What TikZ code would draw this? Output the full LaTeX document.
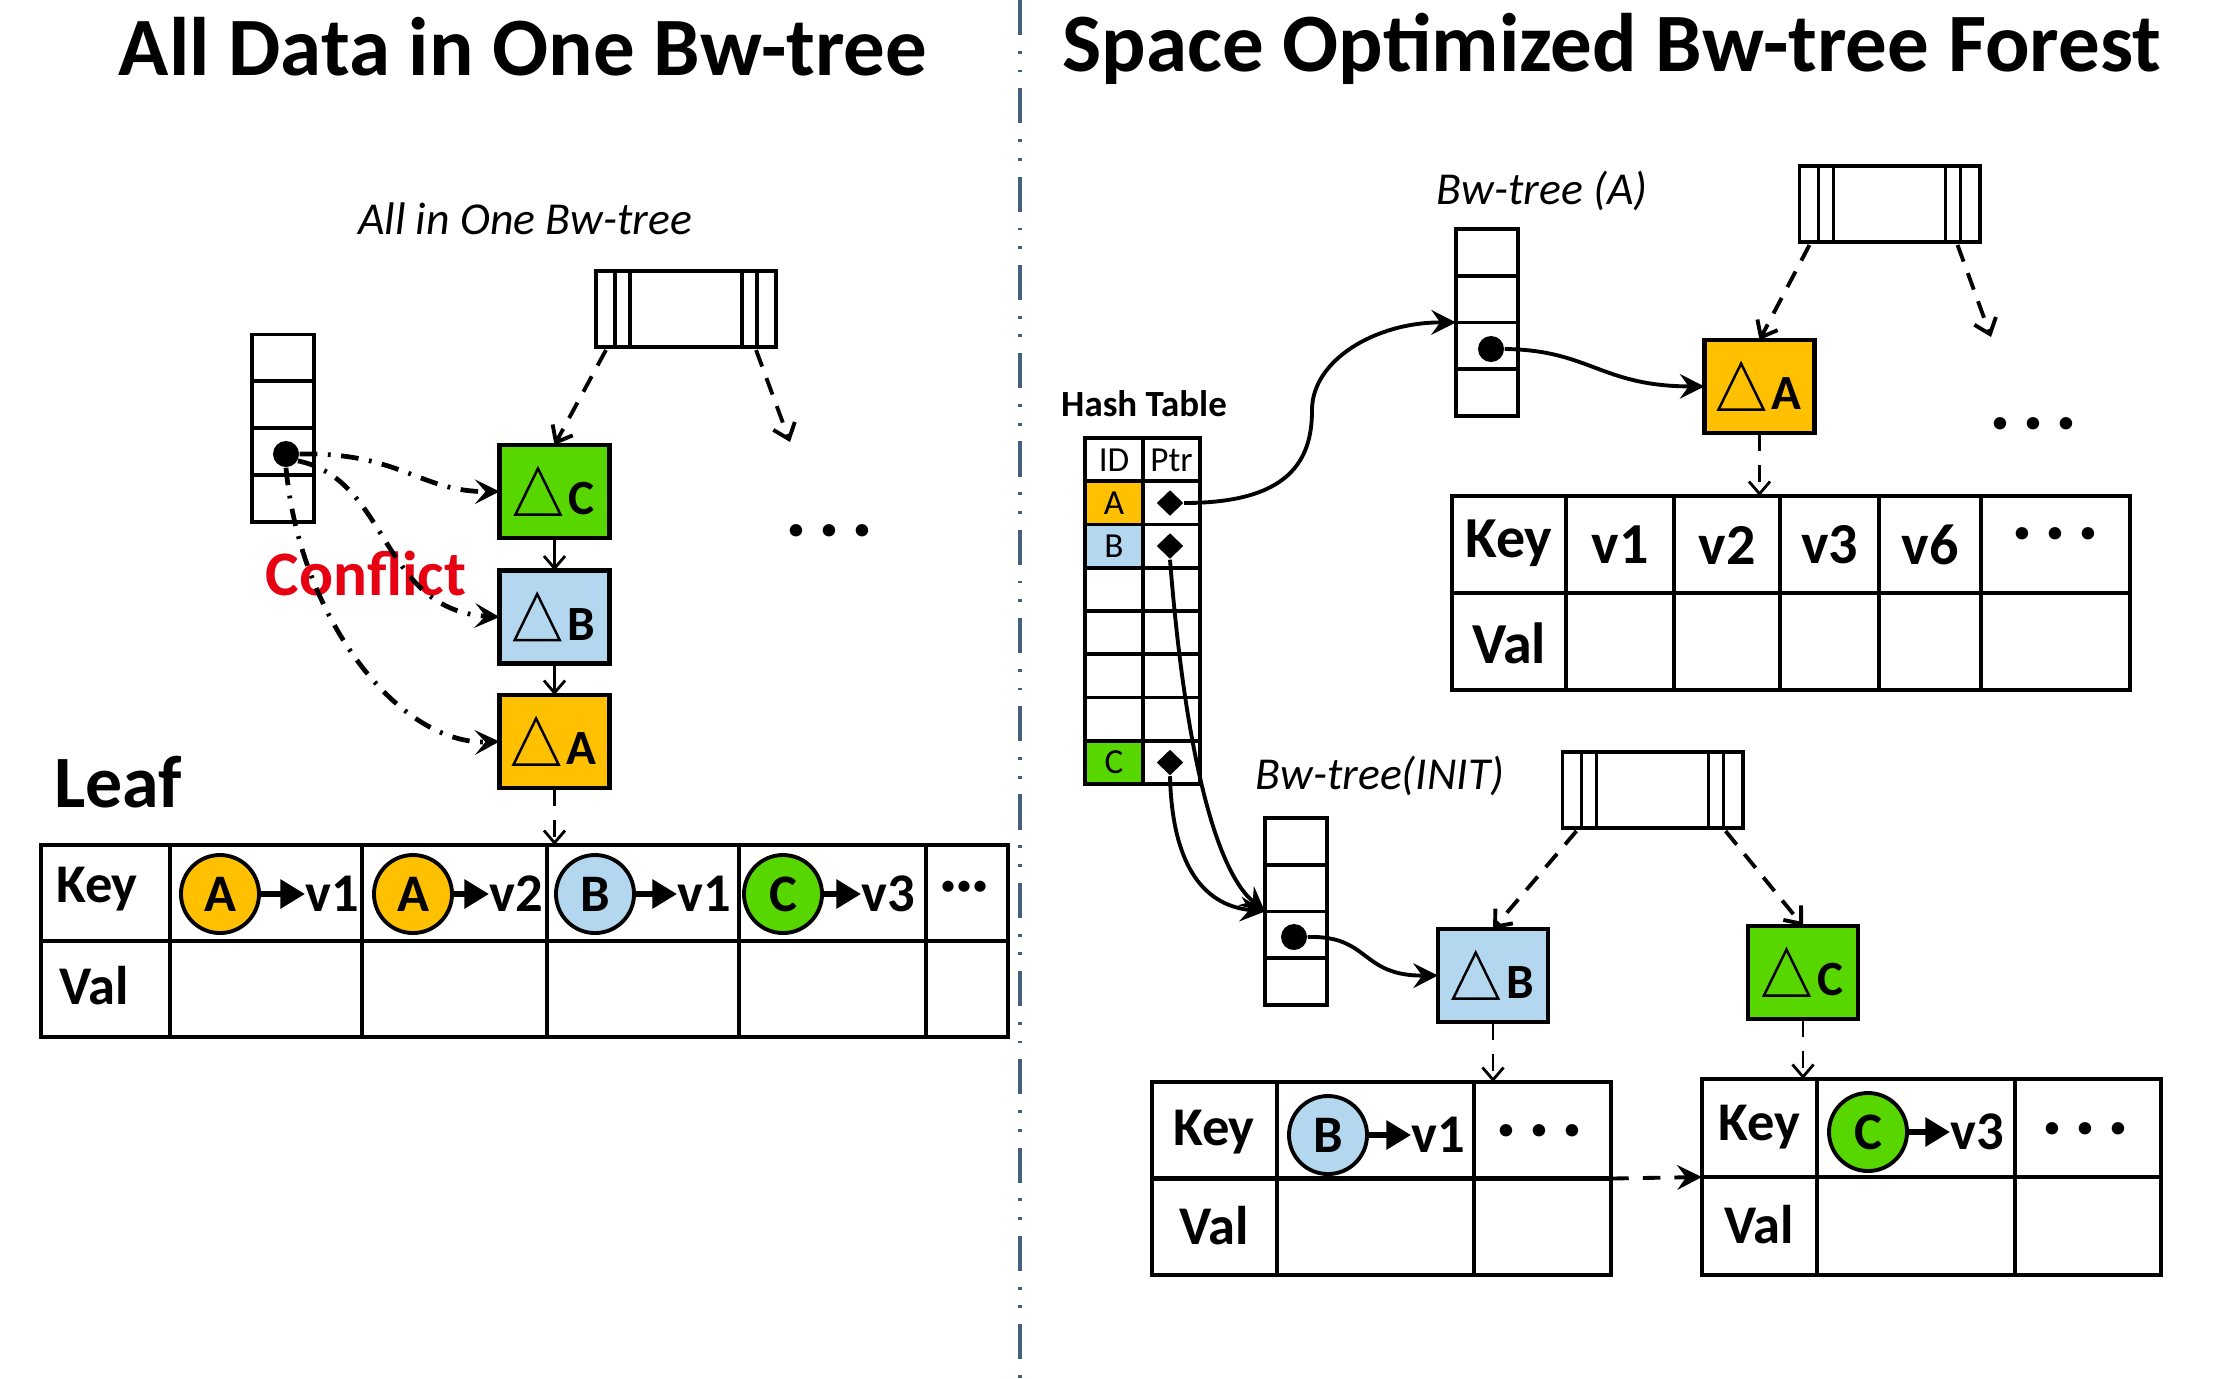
\documentclass[tikz,border=0pt]{standalone}
\usepackage{fontspec}
\setmainfont{Carlito}
\usetikzlibrary{arrows.meta,shapes.geometric,calc}

\newcommand{\deltri}{\tikz[baseline=0pt]\draw[line width=0.7pt, line join=miter] (0cm,0cm) -- (0.45cm,0cm) -- (0.225cm,0.46cm) -- cycle;}

\begin{document}
\begin{tikzpicture}[x=0.01cm, y=-0.01cm,
    box/.style={draw, line width=1.1pt, outer sep=0pt, inner sep=0pt},
    pbox/.style={box, minimum width=1.8cm, minimum height=0.76cm},
    mtab/.style={box, minimum width=0.62cm, minimum height=1.87cm},
    delta/.style={box, line width=1.3pt, minimum width=1.1cm, minimum height=0.93cm, font=\fontsize{14}{14}\selectfont\bfseries},
    keytab/.style={box, line width=1.2pt},
    keycirc/.style={circle, draw, line width=1.1pt, minimum size=0.78cm, inner sep=0pt, font=\fontsize{15}{15}\selectfont\bfseries},
    ptrdot/.style={circle, fill=black, minimum size=0.26cm, inner sep=0pt},
    ptrdiam/.style={diamond, fill=black, minimum width=0.27cm, minimum height=0.26cm, inner sep=0pt},
    celltxt/.style={inner sep=0pt, font=\fontsize{15.5}{15.5}\selectfont\bfseries},
    bigcell/.style={inner sep=0pt, font=\fontsize{16.5}{16.5}\selectfont\bfseries},
    vtxt/.style={celltxt, anchor=west},
    hashtxt/.style={inner sep=0pt, font=\fontsize{10}{10}\selectfont},
    dotstxt/.style={inner sep=0pt, font=\fontsize{19}{19}\selectfont\bfseries},
    headtxt/.style={inner sep=0pt, font=\fontsize{23.6}{23.6}\selectfont\bfseries},
    treelabel/.style={inner sep=0pt, font=\fontsize{13}{13}\selectfont\itshape},
    keyarrow/.style={line width=1.6pt, -{Triangle[length=7pt,width=8pt]}},
    thinarrow/.style={line width=0.8pt, -{Straight Barb[length=3.5pt,width=6pt]}},
    downarrow/.style={thinarrow, dash pattern=on 5pt off 4pt},
    parentarrow/.style={line width=1.1pt, dash pattern=on 5pt off 3.5pt, -{Straight Barb[length=4pt,width=6.5pt]}},
    ptrarrow/.style={line width=1.1pt, -{Stealth[length=7pt,width=7pt,inset=2.5pt]}},
    conflictarrow/.style={line width=1.35pt, dash pattern=on 5pt off 3pt on 0.8pt off 3pt, -{Stealth[length=7pt,width=7pt,inset=3pt]}},
    leafarrow/.style={line width=1.1pt, dash pattern=on 5pt off 4pt, -{Stealth[length=7pt,width=7pt,inset=2.5pt]}},
  ]
  \definecolor{orangeA}{RGB}{255,192,0}
  \definecolor{blueB}{RGB}{180,215,240}
  \definecolor{greenC}{RGB}{88,214,0}
  \definecolor{conflictred}{RGB}{230,0,18}
  \definecolor{dividercol}{RGB}{70,95,125}

  \useasboundingbox (0,0) rectangle (2234,1378);

  % titles and divider
  \node[headtxt] (titleL) at (523,47) {All Data in One Bw-tree};
  \node[headtxt] (titleR) at (1612,49) {Space Optimized Bw-tree Forest};
  \draw[dividercol, line width=1.2pt, dash pattern=on 10pt off 4.5pt on 0.8pt off 4.5pt on 0.8pt off 4.5pt] (1020,0) -- (1020,1378);

  % ---------- left: all in one Bw-tree ----------
  \node[treelabel] (lblL) at (525,219) {All in One Bw-tree};
  \node[pbox] (pL) at (686,309) {};
  \node[mtab] (mL) at (283,428) {};
  \node[ptrdot] (dotL) at (286,454) {};
  \node[delta, fill=greenC] (dCL) at (554.5,491.5) {\deltri\hspace{2pt}C};
  \node[delta, fill=blueB] (dBL) at (554.5,617) {\deltri\hspace{2pt}B};
  \node[delta, fill=orangeA] (dAL) at (554.5,741.5) {\deltri\hspace{2pt}A};
  \node[dotstxt] (moreL) at (829,537) {· · ·};
  \node[inner sep=0pt, text=conflictred, font=\fontsize{18}{18}\selectfont\bfseries] (conflict) at (366,574) {Conflict};
  \node[inner sep=0pt, font=\fontsize{21}{21}\selectfont\bfseries] (leafT) at (118,782) {Leaf};
  \coordinate (pLend) at (790,442);

  \draw[parentarrow] ($(pL.south west)+(10,3)$) -- (dCL.north);
  \draw[parentarrow] ($(pL.south east)+(-20,3)$) -- (pLend);
  \draw[thinarrow] (dCL.south) -- (dBL.north);
  \draw[thinarrow] (dBL.south) -- (dAL.north);
  \draw[conflictarrow] (dotL.east) .. controls (400,452) and (420,492) .. (dCL.west);
  \draw[conflictarrow] (dotL.-30) .. controls (390,480) and (380,610) .. (dBL.west);
  \draw[conflictarrow] (dotL.south) .. controls (300,620) and (400,745) .. (dAL.west);

  % leaf node
  \node[keytab, minimum width=9.67cm, minimum height=1.92cm] (leaf) at (524.5,941) {};
  \draw[line width=1.2pt] (leaf.west) -- (leaf.east);
  \foreach \x in {170,362,547,739,926} {
      \draw[line width=1.2pt] (\x,845) -- (\x,1037);
    }
  \draw[downarrow] (dAL.south) -- (dAL.south |- leaf.north);
  \node[celltxt] (leafKey) at (97,889) {Key};
  \node[celltxt] (leafVal) at (94,986) {Val};
  \foreach \n/\cx/\vx/\col/\lab/\v in {1/220/305/orangeA/A/v1, 2/413/489/orangeA/A/v2, 3/595/677/blueB/B/v1, 4/783/861/greenC/C/v3} {
      \node[keycirc, fill=\col] (lc\n) at (\cx,894) {\lab};
      \node[vtxt] (lv\n) at (\vx,894) {\v};
      \draw[keyarrow] (lc\n) -- (lv\n);
    }
  \node[inner sep=0pt, font=\fontsize{17}{17}\selectfont\bfseries] (leafMore) at (964,892) {···};

  % ---------- right: hash table ----------
  \node[inner sep=0pt, font=\fontsize{10.5}{10.5}\selectfont\bfseries] (hashT) at (1144,404) {Hash Table};
  \fill[orangeA] (1085,481.25) rectangle (1143,524.5);
  \fill[blueB] (1085,524.5) rectangle (1143,567.75);
  \fill[greenC] (1085,740.75) rectangle (1143,784);
  \draw[line width=1.1pt] (1085,438) rectangle (1200,784);
  \draw[line width=1.1pt] (1143,438) -- (1143,784);
  \foreach \i in {1,...,7} {
      \draw[line width=1.1pt] (1085,438+43.25*\i) -- (1200,438+43.25*\i);
    }
  \node[hashtxt] (hID) at (1114,460) {ID};
  \node[hashtxt] (hPtr) at (1171.5,460) {Ptr};
  \node[hashtxt] (hA) at (1114,503) {A};
  \node[hashtxt] (hB) at (1114,546) {B};
  \node[hashtxt] (hC) at (1114,762.5) {C};
  \node[ptrdiam] (diamA) at (1170,503) {};
  \node[ptrdiam] (diamB) at (1170,546) {};
  \node[ptrdiam] (diamC) at (1170,762.5) {};

  % ---------- Bw-tree (A) ----------
  \node[treelabel] (lblA) at (1542,191) {Bw-tree (A)};
  \node[mtab] (mA) at (1487,322.5) {};
  \node[ptrdot] (dotA) at (1491,349) {};
  \node[pbox] (pA) at (1889.5,204) {};
  \node[delta, fill=orangeA] (dAR) at (1759.5,386.5) {\deltri\hspace{2pt}A};
  \node[dotstxt] (moreA) at (2033,430) {· · ·};
  \coordinate (pAend) at (1991,337);

  \draw[parentarrow] ($(pA.south west)+(10,3)$) -- (dAR.north);
  \draw[parentarrow] ($(pA.south east)+(-22,3)$) -- (pAend);
  \draw[ptrarrow] (dotA.east) .. controls (1590,350) and (1600,386) .. (dAR.west);
  \draw[ptrarrow] (diamA.east) .. controls (1290,503) and (1312,460) .. (1312,410) .. controls (1312,360) and (1376,322) .. (mA.west);

  \node[keytab, minimum width=6.78cm, minimum height=1.94cm] (tabA) at (1791,593) {};
  \draw[line width=1.2pt] (tabA.west) -- (tabA.east);
  \foreach \x in {1566,1674,1780,1879,1981} {
      \draw[line width=1.2pt] (\x,496) -- (\x,690);
    }
  \draw[downarrow] (dAR.south) -- (dAR.south |- tabA.north);
  \node[bigcell] (aKey) at (1509,543) {Key};
  \node[bigcell] (aVal) at (1509,643) {Val};
  \foreach \n/\cx/\v in {1/1620/v1, 2/1727/v2, 3/1829.5/v3, 4/1930/v6} {
      \node[bigcell] (av\n) at (\cx,545) {\v};
    }
  \node[dotstxt] (aMore) at (2055,540) {· · ·};

  % ---------- Bw-tree(INIT) ----------
  \node[treelabel] (lblI) at (1380,776) {Bw-tree(INIT)};
  \node[mtab] (mI) at (1296,911.5) {};
  \node[ptrdot] (dotI) at (1294,937) {};
  \node[pbox] (pI) at (1652.5,790) {};
  \node[delta, fill=blueB] (dBR) at (1493,975.5) {\deltri\hspace{2pt}B};
  \node[delta, fill=greenC] (dCR) at (1803,972.5) {\deltri\hspace{2pt}C};

  \draw[parentarrow] ($(pI.south west)+(14,3)$) -- (dBR.north);
  \draw[parentarrow] ($(pI.south east)+(-17,3)$) -- (dCR.north);
  \draw[ptrarrow] (dotI.east) .. controls (1370,935) and (1360,976) .. (dBR.west);
  \draw[ptrarrow] (diamB.south) .. controls (1185,750) and (1215,870) .. (mI.west);
  \draw[ptrarrow] (diamC.south) .. controls (1172,860) and (1200,905) .. (mI.west);

  \node[keytab, minimum width=4.59cm, minimum height=1.93cm] (tabB) at (1381.5,1178.5) {};
  \draw[line width=1.2pt] (tabB.west) -- (tabB.east);
  \foreach \x in {1277,1474} {
      \draw[line width=1.2pt] (\x,1082) -- (\x,1275);
    }
  \node[keytab, minimum width=4.59cm, minimum height=1.96cm] (tabC) at (1931.5,1177) {};
  \draw[line width=1.2pt] (tabC.west) -- (tabC.east);
  \foreach \x in {1817,2015} {
      \draw[line width=1.2pt] (\x,1079) -- (\x,1275);
    }
  \draw[downarrow] (dBR.south) -- (dBR.south |- tabB.north);
  \draw[downarrow] (dCR.south) -- (dCR.south |- tabC.north);
  \draw[leafarrow] (tabB.east) -- (tabC.west);

  \node[celltxt] (bKey) at (1214,1132) {Key};
  \node[celltxt] (bVal) at (1214,1226) {Val};
  \node[keycirc, fill=blueB] (bc) at (1328,1135) {B};
  \node[vtxt] (bv) at (1411,1135) {v1};
  \draw[keyarrow] (bc) -- (bv);
  \node[dotstxt] (bMore) at (1539,1137) {· · ·};

  \node[celltxt] (cKey) at (1759,1127) {Key};
  \node[celltxt] (cVal) at (1759,1225) {Val};
  \node[keycirc, fill=greenC] (cc) at (1868,1132) {C};
  \node[vtxt] (cv) at (1950,1132) {v3};
  \draw[keyarrow] (cc) -- (cv);
  \node[dotstxt] (cMore) at (2085,1135) {· · ·};

  % mapping table rows and parent node separators
  \foreach \m in {mL,mA,mI} {
      \foreach \f in {0.25,0.5,0.75} {
          \draw[line width=1.1pt] ($(\m.north west)!\f!(\m.south west)$) -- ($(\m.north east)!\f!(\m.south east)$);
        }
    }
  \foreach \p in {pL,pA,pI} {
      \foreach \d in {19,34} {
          \draw[line width=1pt] ($(\p.north west)+(\d,0)$) -- ($(\p.south west)+(\d,0)$);
          \draw[line width=1pt] ($(\p.north east)-(\d,0)$) -- ($(\p.south east)-(\d,0)$);
        }
    }
\end{tikzpicture}
\end{document}
